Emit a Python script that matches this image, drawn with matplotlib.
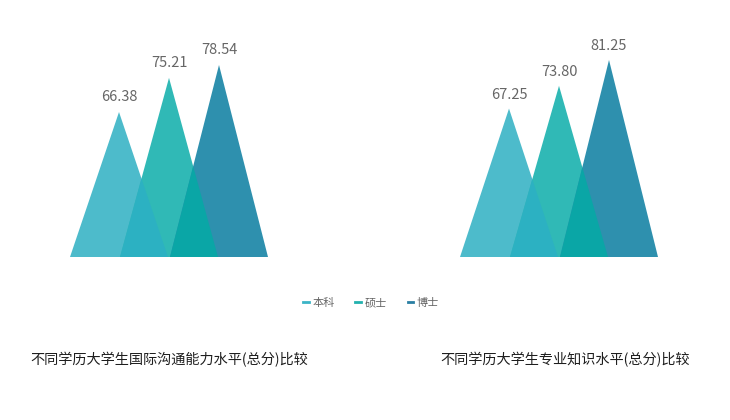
import matplotlib
matplotlib.use('Agg')
import matplotlib.pyplot as plt
from matplotlib.patches import Polygon
from matplotlib.lines import Line2D

plt.rcParams['font.family'] = ['Noto Sans CJK SC', 'DejaVu Sans']

degrees = ['本科', '硕士', '博士']
comm_scores = [66.38, 75.21, 78.54]
know_scores = [67.25, 73.80, 81.25]
titles = ['不同学历大学生国际沟通能力水平(总分)比较', '不同学历大学生专业知识水平(总分)比较']
colors = ['#4dbbcb', '#30b9b6', '#2e90ae']
overlap_colors = ['#2cb1c2', '#0aa6a6']
legend_colors = ['#3bb4c6', '#22b1ae', '#2a7fa3']

half = 0.98


def draw(ax, scores, ylim):
    ax.set_xlim(-half, len(scores) - 1 + half)
    ax.set_ylim(*ylim)
    base = ylim[0]
    tris = []
    for i, v in enumerate(scores):
        p = Polygon([(i - half, base), (i, v), (i + half, base)], closed=True,
                    facecolor=colors[i], edgecolor='none')
        ax.add_patch(p)
        tris.append(p)
        ax.text(i, v + 2.0, f'{v:.2f}', ha='center', va='bottom',
                fontsize=10.5, color='#666666')
    # overlapping parts
    for i in range(1, len(scores)):
        v = scores[i]
        p = Polygon([(i - half, base), (i, v), (i + half, base)], closed=True,
                    facecolor=overlap_colors[i - 1], edgecolor='none')
        ax.add_patch(p)
        p.set_clip_path(tris[i - 1])
    ax.axis('off')


fig = plt.figure(figsize=(7.3, 4.2), dpi=100)
fig.patch.set_facecolor('white')

ax1 = fig.add_axes([70 / 730, (420 - 257) / 420, 198 / 730, 217 / 420])
ax2 = fig.add_axes([460 / 730, (420 - 257) / 420, 198 / 730, 217 / 420])
draw(ax1, comm_scores, (28.9, 85.0))
draw(ax2, know_scores, (24.5, 87.0))

handles = [Line2D([0], [0], color=c, lw=2) for c in legend_colors]
fig.legend(handles, degrees, loc='center', bbox_to_anchor=(371 / 730, 1 - 303 / 420),
           ncol=3, frameon=False, fontsize=8, handlelength=0.5, handletextpad=0.3,
           columnspacing=1.9, labelcolor='#666666')

fig.text(30 / 730, 1 - 360 / 420, titles[0], fontsize=10.2, color='#1e1e1e',
         ha='left', va='center')
fig.text(440 / 730, 1 - 360 / 420, titles[1], fontsize=10.2, color='#1e1e1e',
         ha='left', va='center')

fig.savefig('out.png', dpi=100, facecolor='white')
